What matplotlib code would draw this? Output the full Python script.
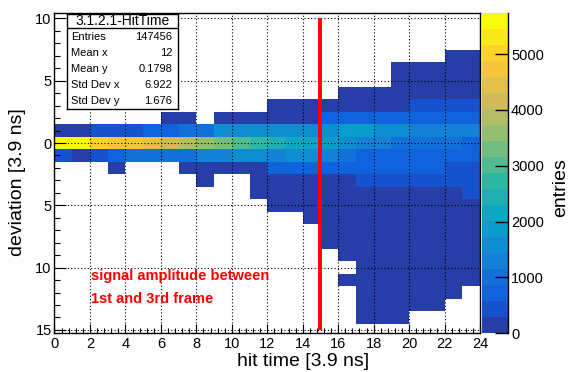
import matplotlib
matplotlib.use("Agg")
import matplotlib.pyplot as plt
import numpy as np
from matplotlib.colors import LinearSegmentedColormap, ListedColormap, BoundaryNorm
from matplotlib.ticker import MultipleLocator, FuncFormatter

plt.rcParams["font.family"] = ["Liberation Sans", "DejaVu Sans"]

# hit time bins (x) are 0..24, deviation bins (y) are centred on integers
x_edges = np.arange(0, 25)
y_rows = np.arange(10, -16, -1)          # row centres, top to bottom

# top row (deviation) of the filled range for each hit time column
top_rows = [1, 1, 1, 1, 1, 1, 2, 2, 1, 2, 2, 2, 3, 3, 3, 3, 4, 4, 4, 6, 6, 6, 7, 7]

# entries per column, from the top row downwards
c00 = [120, 5730, 294]
c01 = [270, 5600, 274]
c02 = [450, 5150, 544]
c03 = [450, 4800, 750, 144]
c04 = [500, 4700, 944]
c05 = [650, 4450, 1044]
c06 = [100, 800, 4150, 1094]
c07 = [120, 950, 3850, 1080, 144]
c08 = [1000, 3550, 1350, 150, 94]
c09 = [130, 1440, 3160, 1300, 114]
c10 = [150, 1450, 2950, 1450, 144]
c11 = [150, 1550, 2700, 1450, 150, 100, 44]
c12 = [60, 150, 1450, 2350, 1390, 580, 80, 50, 34]
c13 = [70, 150, 1450, 2200, 1450, 600, 100, 70, 54]
c14 = [80, 180, 1450, 2050, 1450, 650, 120, 80, 50, 34]
c15 = [150, 600, 1500, 1800, 1150, 700, 100, 60, 40, 20, 14, 10]
c16 = [50, 200, 650, 1750, 1500, 950, 650, 200, 80, 40, 25, 20, 12, 10, 0, 7]
c17 = [60, 220, 650, 1750, 1200, 800, 650, 350, 150, 90, 60, 45, 35, 25, 20, 15, 10, 8, 6]
c18 = [80, 250, 700, 1550, 1250, 800, 650, 350, 170, 100, 70, 50, 40, 30, 22, 15, 9, 5, 3]
c19 = [20, 40, 100, 270, 700, 1500, 1105, 800, 650, 350, 200, 130, 90, 60, 45, 30, 22, 15, 10, 5, 2]
c20 = [30, 60, 150, 350, 750, 1400, 1000, 800, 650, 350, 200, 130, 90, 60, 45, 30, 22, 15, 8, 4]
c21 = [40, 80, 200, 350, 750, 1400, 950, 600, 650, 350, 230, 160, 110, 80, 60, 50, 40, 25, 15, 4]
c22 = [50, 90, 150, 230, 350, 750, 1250, 950, 600, 450, 350, 250, 180, 140, 110, 80, 60, 50, 35, 19]
c23 = [70, 120, 180, 260, 350, 750, 1250, 750, 700, 450, 350, 300, 200, 150, 110, 70, 50, 30, 4]

columns = [c00, c01, c02, c03, c04, c05, c06, c07, c08, c09, c10, c11,
           c12, c13, c14, c15, c16, c17, c18, c19, c20, c21, c22, c23]

stats_labels = ["Entries", "Mean x", "Mean y", "Std Dev x", "Std Dev y"]
stats_values = ["147456", "12", "0.1798", "6.922", "1.676"]

z_max = 5730
n_levels = 20
signal_x = 15

# build the grid
grid = np.zeros((len(y_rows), len(columns)))
for i, (top, vals) in enumerate(zip(top_rows, columns)):
    r0 = list(y_rows).index(top)
    grid[r0:r0 + len(vals), i] = vals
grid = np.ma.masked_equal(grid, 0)

# ROOT kBird palette, sampled the way COLZ picks band colours
stops = [0.0, 0.125, 0.25, 0.375, 0.5, 0.625, 0.75, 0.875, 1.0]
red = [0.2082, 0.0592, 0.0780, 0.0232, 0.1802, 0.5301, 0.8186, 0.9956, 0.9764]
green = [0.1664, 0.3599, 0.5041, 0.6419, 0.7178, 0.7492, 0.7328, 0.7862, 0.9832]
blue = [0.5293, 0.8684, 0.8385, 0.7914, 0.6425, 0.4662, 0.3499, 0.1968, 0.0539]
bird = LinearSegmentedColormap.from_list(
    "bird", list(zip(stops, zip(red, green, blue))), N=255)
band_colors = [bird(int((i + 0.99) * 255 / n_levels) / 254) for i in range(n_levels)]
cmap = ListedColormap(band_colors)
levels = np.linspace(0, z_max, n_levels + 1)
norm = BoundaryNorm(levels, n_levels)

fig = plt.figure(figsize=(5.7, 3.72), dpi=100)
ax = fig.add_axes([0.0956, 0.104, 0.7465, 0.860])
cax = fig.add_axes([0.846, 0.104, 0.0456, 0.860])

y_edges = np.arange(10.5, -16.5, -1)
ax.pcolormesh(x_edges, y_edges, grid, cmap=cmap, norm=norm, zorder=1)

ax.set_xlim(0, 24)
ax.set_ylim(-15.27, 10.4)
ax.xaxis.set_major_locator(MultipleLocator(2))
ax.xaxis.set_minor_locator(MultipleLocator(0.4))
ax.yaxis.set_major_locator(MultipleLocator(5))
ax.yaxis.set_minor_locator(MultipleLocator(1))
ax.yaxis.set_major_formatter(FuncFormatter(lambda v, p: f"{abs(v):g}"))
ax.tick_params(axis="x", which="major", direction="in", length=6.5, width=0.8, labelsize=10.5, pad=3)
ax.tick_params(axis="x", which="minor", direction="in", length=3.3, width=0.8)
ax.tick_params(axis="y", which="major", direction="in", length=8.5, width=0.8, labelsize=10.5, pad=2)
ax.tick_params(axis="y", which="minor", direction="in", length=4.5, width=0.8)
ax.set_axisbelow(False)
ax.grid(True, which="major", color="black", linestyle=(0, (1, 2)), linewidth=0.8, zorder=2)
for s in ax.spines.values():
    s.set_linewidth(1.0)
    s.set_zorder(5)

ax.vlines(signal_x, -15, 10, color="#ff0000", linewidth=2.8, zorder=4)

ax.text(2.05, -10.65, "signal amplitude between", color="#ff0000",
        fontsize=10.5, fontweight="bold", va="center", ha="left", zorder=6)
ax.text(2.05, -12.55, "1st and 3rd frame", color="#ff0000",
        fontsize=10.5, fontweight="bold", va="center", ha="left", zorder=6)

fig.text(303 / 570, 1 - 362 / 372, "hit time [3.9 ns]", fontsize=14, ha="center", va="center")
fig.text(18 / 570, 1 - 182 / 372, "deviation [3.9 ns]", fontsize=14, ha="center",
         va="center", rotation=90)

# colour bar
cb = fig.colorbar(plt.cm.ScalarMappable(norm=norm, cmap=cmap), cax=cax,
                  boundaries=levels, ticks=np.arange(0, 6000, 1000))
cb.outline.set_visible(False)
cax.yaxis.set_ticks_position("right")
cax.tick_params(axis="y", which="major", direction="in", length=9.5, width=1.0,
                labelsize=10.5, pad=2)
cax.minorticks_off()
cax.axvline(1, color="black", linewidth=1.0, clip_on=False)
fig.text(561 / 570, 1 - 188 / 372, "entries", fontsize=14, ha="center", va="center", rotation=90)

# statistics box
sb = fig.add_axes([66.7 / 570, 1 - 109 / 372, 111.3 / 570, 95 / 372])
sb.set_xlim(0, 111.3)
sb.set_ylim(95, 0)
sb.set_xticks([])
sb.set_yticks([])
sb.set_facecolor("white")
for s in sb.spines.values():
    s.set_linewidth(1.0)
sb.axhline(14, color="black", linewidth=1.0)
sb.text(55.6, 7.2, "3.1.2.1-HitTime", fontsize=10, ha="center", va="center")
for k, (lab, val) in enumerate(zip(stats_labels, stats_values)):
    yy = 23 + 16 * k
    sb.text(4.5, yy, lab, fontsize=8, ha="left", va="center")
    sb.text(105.5, yy, val, fontsize=8, ha="right", va="center")

fig.savefig("out.png", dpi=100)
